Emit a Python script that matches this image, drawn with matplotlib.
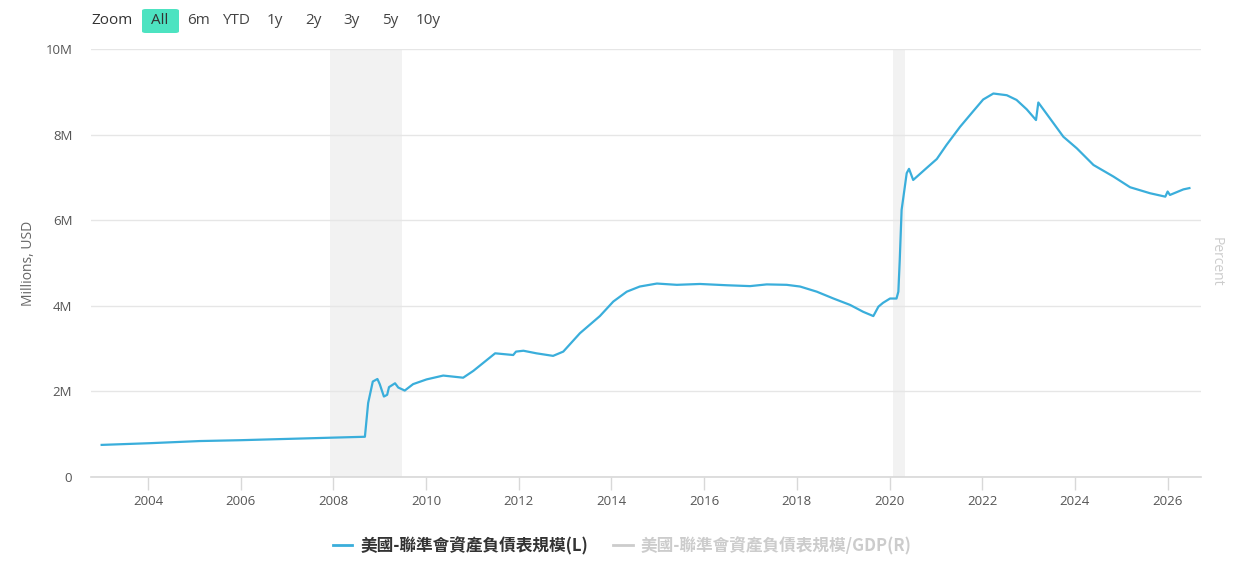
import matplotlib
matplotlib.use("Agg")
import matplotlib.pyplot as plt
from matplotlib.lines import Line2D
from matplotlib.patches import FancyBboxPatch

plt.rcParams['font.family'] = ['Open Sans', 'Noto Sans CJK TC', 'DejaVu Sans']

# 聯準會資產負債表規模 (單位: 百萬 -> 以 M 表示)
years = [2003.0, 2004.04, 2005.12, 2006.0, 2007.0, 2008.0, 2008.68, 2008.75,
         2008.85, 2008.95, 2009.0, 2009.09, 2009.16, 2009.2, 2009.33, 2009.4,
         2009.54, 2009.72, 2010.01, 2010.37, 2010.8, 2011.02, 2011.49, 2011.88,
         2011.94, 2012.1, 2012.38, 2012.74, 2012.96, 2013.32, 2013.75, 2014.04,
         2014.33, 2014.61, 2014.98, 2015.41, 2015.91, 2016.49, 2016.99, 2017.35,
         2017.78, 2018.07, 2018.43, 2018.79, 2019.15, 2019.43, 2019.65, 2019.76,
         2019.86, 2020.01, 2020.15, 2020.19, 2020.22, 2020.26, 2020.3,
         2020.37, 2020.42, 2020.51, 2020.8, 2021.02, 2021.23, 2021.52, 2021.8,
         2022.02, 2022.24, 2022.53, 2022.74, 2022.96, 2023.16, 2023.21, 2023.46,
         2023.75, 2024.04, 2024.4, 2024.83, 2025.19, 2025.62, 2025.95, 2026.0,
         2026.05, 2026.34, 2026.47]
assets = [0.75, 0.79, 0.84, 0.86, 0.89, 0.92, 0.94, 1.73,
          2.23, 2.29, 2.17, 1.88, 1.92, 2.10, 2.19, 2.09,
          2.02, 2.17, 2.28, 2.37, 2.32, 2.48, 2.89, 2.85,
          2.93, 2.95, 2.89, 2.83, 2.93, 3.36, 3.76, 4.10,
          4.33, 4.45, 4.52, 4.49, 4.51, 4.48, 4.46, 4.50,
          4.49, 4.45, 4.33, 4.17, 4.02, 3.86, 3.76, 3.98,
          4.07, 4.17, 4.17, 4.33, 5.07, 6.24, 6.55,
          7.10, 7.20, 6.94, 7.22, 7.43, 7.76, 8.18, 8.54,
          8.82, 8.96, 8.92, 8.81, 8.59, 8.34, 8.75, 8.38,
          7.95, 7.68, 7.29, 7.02, 6.77, 6.63, 6.55, 6.67,
          6.59, 6.72, 6.75]

# 衰退期間
recessions = [(2007.92, 2009.49), (2020.08, 2020.33)]

y_ticks = [0, 2, 4, 6, 8, 10]
y_labels = ['0', '2M', '4M', '6M', '8M', '10M']
x_ticks = list(range(2004, 2027, 2))
zoom_labels = ['6m', 'YTD', '1y', '2y', '3y', '5y', '10y']
zoom_x = [198, 236, 275, 313, 352, 390, 428]

series_l = '美國-聯準會資產負債表規模(L)'
series_r = '美國-聯準會資產負債表規模/GDP(R)'

W, H = 1250, 570
fig = plt.figure(figsize=(W / 100, H / 100), dpi=100)
ax = fig.add_axes([91 / W, 1 - 477 / H, (1201 - 91) / W, (477 - 49) / H])

for a, b in recessions:
    ax.axvspan(a, b, color='#f2f2f2', lw=0, zorder=0)

ax.plot(years, assets, color='#3aaedb', lw=1.6, zorder=3)

ax.set_xlim(2002.77, 2026.72)
ax.set_ylim(0, 10)
ax.set_yticks(y_ticks)
ax.set_yticklabels(y_labels)
ax.set_xticks(x_ticks)
ax.set_xticklabels([str(t) for t in x_ticks])
ax.grid(axis='y', color='#e6e6e6', lw=1)
ax.set_axisbelow(True)
for s in ['left', 'right', 'top']:
    ax.spines[s].set_visible(False)
ax.spines['bottom'].set_color('#d8d8d8')
ax.spines['bottom'].set_linewidth(1.2)
ax.tick_params(axis='x', length=9, width=1, color='#d8d8d8', labelsize=9.5,
               labelcolor='#555555', pad=4)
ax.tick_params(axis='y', length=0, labelsize=9.5, labelcolor='#555555', pad=13.5)

# 座標軸標題
fig.text(28 / W, 1 - 263 / H, 'Millions, USD', rotation=90, fontsize=10,
         color='#666666', ha='center', va='center')
fig.text(1216 / W, 1 - 262 / H, 'Percent', rotation=270, fontsize=10,
         color='#cccccc', ha='center', va='center')

# 縮放按鈕
fig.text(91 / W, 1 - 21 / H, 'Zoom', fontsize=11, color='#333333', va='center')
btn = FancyBboxPatch((142 / W, 1 - 33 / H), 37 / W, 24 / H,
                     boxstyle='round,pad=0,rounding_size=0.003',
                     transform=fig.transFigure, facecolor='#4de3c1',
                     edgecolor='none')
fig.patches.append(btn)
fig.text(160 / W, 1 - 21 / H, 'All', fontsize=11, color='#333333',
         ha='center', va='center')
for lab, xp in zip(zoom_labels, zoom_x):
    fig.text(xp / W, 1 - 21 / H, lab, fontsize=11, color='#444444',
             ha='center', va='center')

handles = [Line2D([], [], color='#3aaedb', lw=2),
           Line2D([], [], color='#cccccc', lw=2)]
leg = fig.legend(handles, [series_l, series_r], loc='center',
                 bbox_to_anchor=(0.498, 1 - 546 / H), ncol=2, frameon=False,
                 handlelength=1.15, handletextpad=0.5, columnspacing=1.5,
                 prop={'family': ['Noto Sans CJK TC', 'DejaVu Sans'],
                       'weight': 'bold', 'size': 12})
leg.get_texts()[0].set_color('#333333')
leg.get_texts()[1].set_color('#cccccc')

fig.savefig('out.png', dpi=100)
